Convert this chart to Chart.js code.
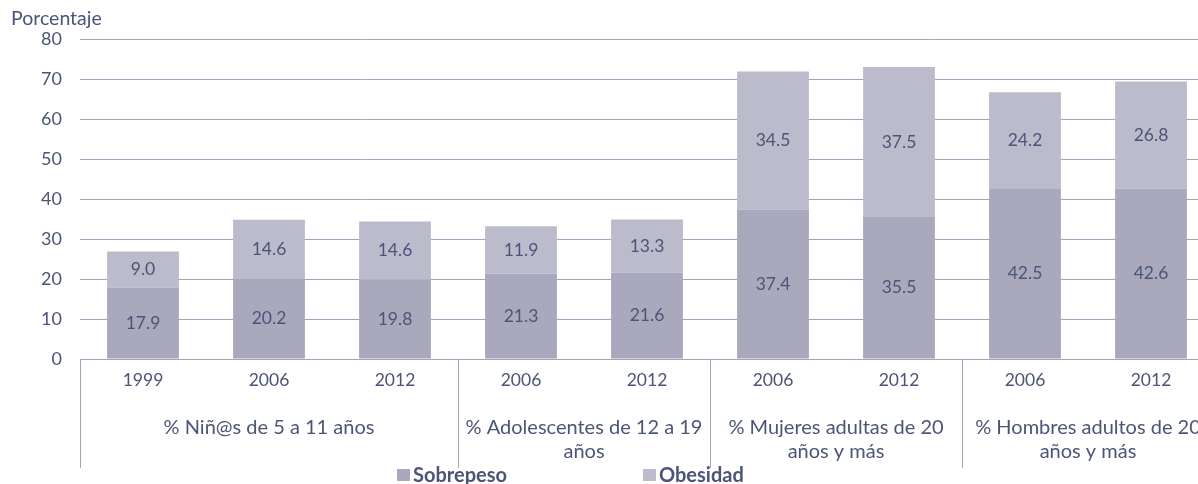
<!DOCTYPE html>
<html>
<head>
<meta charset="utf-8">
<script src="https://cdn.jsdelivr.net/npm/chart.js"></script>
<style>
  html, body { margin: 0; padding: 0; overflow: hidden; background: #fff; }
  #wrap { width: 1216px; height: 484px; }
</style>
</head>
<body>
<div id="wrap"><canvas id="chart" width="1216" height="484"></canvas></div>
<script>
// Data
const years = ['1999', '2006', '2012', '2006', '2012', '2006', '2012', '2006', '2012'];
const sobrepeso = [17.9, 20.2, 19.8, 21.3, 21.6, 37.4, 35.5, 42.5, 42.6];
const obesidad = [9.0, 14.6, 14.6, 11.9, 13.3, 34.5, 37.5, 24.2, 26.8];
const groupNames = [
    ['% Niñ@s de 5 a 11 años'],
    ['% Adolescentes de 12 a 19', 'años'],
    ['% Mujeres adultas de 20', 'años y más'],
    ['% Hombres adultos de 20', 'años y más']
];
const groupSizes = [3, 2, 2, 2];
const yTicks = [0, 10, 20, 30, 40, 50, 60, 70, 80];

const textColor = '#4B5577';
const lineColor = '#A3A4BA';
const colSobre = '#A9A8BC';
const colObes = '#BCBBCC';
const fontFamily = 'Lato, "Open Sans", sans-serif';

// draws value labels, the grouped x labels, separators, y title and legend
const extras = {
    id: 'extras',
    afterDatasetsDraw(chart) {
        const ctx = chart.ctx;
        ctx.save();
        ctx.fillStyle = textColor;
        ctx.font = '17.5px ' + fontFamily;
        ctx.textAlign = 'center';
        ctx.textBaseline = 'middle';
        chart.data.datasets.forEach((ds, i) => {
            chart.getDatasetMeta(i).data.forEach((bar, j) => {
                const p = bar.getProps(['x', 'y', 'base'], true);
                ctx.fillText(ds.data[j].toFixed(1), p.x, (p.y + p.base) / 2);
            });
        });
        ctx.restore();
    },
    afterDraw(chart) {
        const ctx = chart.ctx;
        const area = chart.chartArea;
        const xs = chart.scales.x;
        const step = xs.getPixelForValue(1) - xs.getPixelForValue(0);
        ctx.save();

        // separators + group labels
        ctx.strokeStyle = lineColor;
        ctx.lineWidth = 1;
        ctx.fillStyle = textColor;
        ctx.font = '20px ' + fontFamily;
        ctx.textAlign = 'center';
        ctx.textBaseline = 'middle';
        let idx = 0;
        const bounds = [area.left];
        groupSizes.forEach(n => { idx += n; bounds.push(area.left + idx * step); });
        bounds.forEach(b => {
            const x = Math.round(b) + 0.5;
            ctx.beginPath();
            ctx.moveTo(x, area.bottom);
            ctx.lineTo(x, area.bottom + 109);
            ctx.stroke();
        });
        groupNames.forEach((lines, g) => {
            const cx = (bounds[g] + bounds[g + 1]) / 2;
            lines.forEach((t, k) => ctx.fillText(t, cx, area.bottom + 69 + k * 24));
        });

        // y axis title
        ctx.textAlign = 'left';
        ctx.font = '19.5px ' + fontFamily;
        ctx.fillText('Porcentaje', 11, 19);

        // legend
        ctx.font = 'bold 20px ' + fontFamily;
        const items = [['Sobrepeso', colSobre, 397], ['Obesidad', colObes, 643]];
        items.forEach(([label, col, x]) => {
            ctx.fillStyle = col;
            ctx.fillRect(x, 469, 13, 12);
            ctx.fillStyle = textColor;
            ctx.fillText(label, x + 16, 476);
        });
        ctx.restore();
    }
};

new Chart(document.getElementById('chart'), {
    type: 'bar',
    data: {
        labels: years,
        datasets: [
            { label: 'Sobrepeso', data: sobrepeso, backgroundColor: colSobre, barPercentage: 0.57, categoryPercentage: 1 },
            { label: 'Obesidad', data: obesidad, backgroundColor: colObes, barPercentage: 0.57, categoryPercentage: 1 }
        ]
    },
    options: {
        responsive: false,
        animation: false,
        layout: { padding: { top: 39, right: 2, left: 0, bottom: 0 } },
        plugins: {
            legend: { display: false },
            tooltip: { enabled: false }
        },
        scales: {
            x: {
                stacked: true,
                grid: { display: false, drawTicks: false },
                border: { display: true, color: lineColor, width: 1 },
                ticks: { color: textColor, font: { family: fontFamily, size: 17.5 }, padding: 11 },
                afterFit(scale) { scale.height = 125; }
            },
            y: {
                stacked: true,
                min: 0,
                max: 80,
                afterBuildTicks(scale) { scale.ticks = yTicks.map(v => ({ value: v })); },
                grid: { color: lineColor, lineWidth: 1, drawTicks: false },
                border: { display: false },
                ticks: { color: textColor, font: { family: fontFamily, size: 18 }, padding: 18 },
                afterFit(scale) { scale.width = 80; }
            }
        }
    },
    plugins: [extras]
});
</script>
</body>
</html>
